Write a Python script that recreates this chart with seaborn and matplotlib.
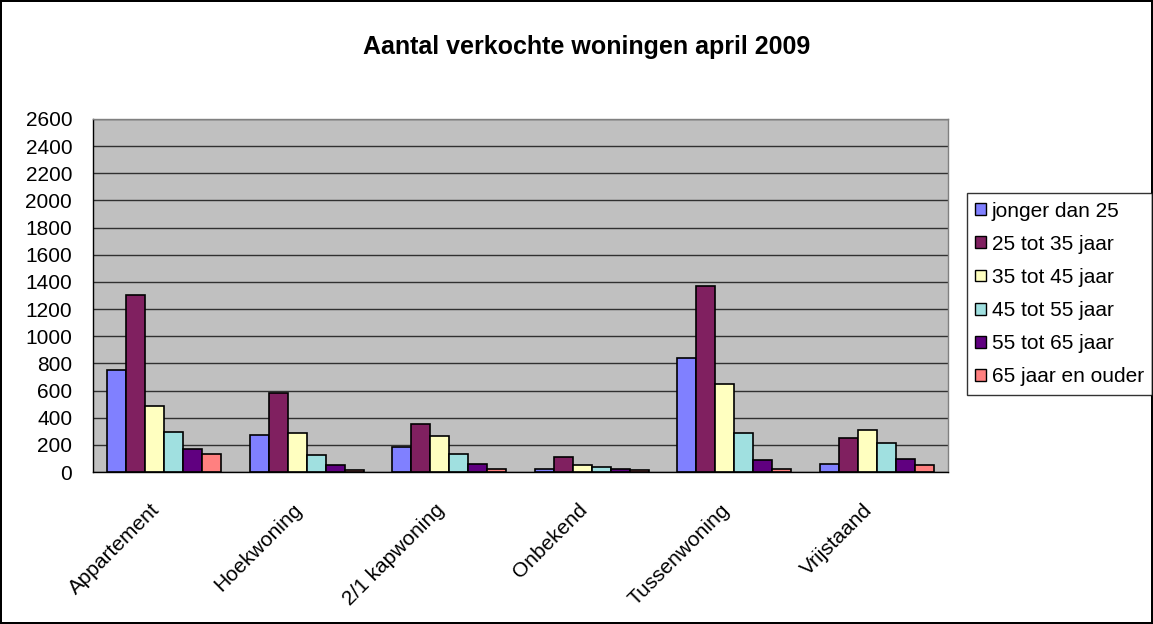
import pandas as pd
import numpy as np
import seaborn as sns
import matplotlib.pyplot as plt
import matplotlib.transforms as mtransforms
from matplotlib.ticker import FixedLocator

# Data
categories = ["Appartement", "Hoekwoning", "2/1 kapwoning", "Onbekend", "Tussenwoning", "Vrijstaand"]
age_groups = ["jonger dan 25", "25 tot 35 jaar", "35 tot 45 jaar",
              "45 tot 55 jaar", "55 tot 65 jaar", "65 jaar en ouder"]

jonger_25 = [750, 275, 186, 22, 840, 61]
j25_35 = [1304, 584, 351, 113, 1370, 248]
j35_45 = [486, 285, 263, 52, 650, 312]
j45_55 = [297, 128, 135, 37, 285, 211]
j55_65 = [172, 52, 61, 22, 86, 96]
j65_plus = [135, 12, 22, 12, 22, 52]

colors = ["#8080FF", "#802060", "#FFFFC0", "#A0E0E0", "#600080", "#FF8080"]

series = [jonger_25, j25_35, j35_45, j45_55, j55_65, j65_plus]
rows = []
for grp, vals in zip(age_groups, series):
    for cat, v in zip(categories, vals):
        rows.append({"Type": cat, "Leeftijd": grp, "Aantal": v})
df = pd.DataFrame(rows)

sns.set_style("white")
plt.rcParams['font.family'] = ['Liberation Sans', 'DejaVu Sans']
plt.rcParams['text.color'] = 'black'
plt.rcParams['xtick.color'] = 'black'
plt.rcParams['ytick.color'] = 'black'

fig = plt.figure(figsize=(11.53, 6.24), dpi=100)
fig.patch.set_edgecolor("black")
fig.patch.set_linewidth(1.5)
ax = fig.add_axes([93 / 1153, 1 - 472 / 624, 855 / 1153, 353 / 624])

sns.barplot(data=df, x="Type", y="Aantal", hue="Leeftijd", order=categories,
            hue_order=age_groups, palette=colors, width=0.8, ax=ax,
            edgecolor="black", linewidth=1.2, saturation=1, legend=False)

ax.set_facecolor("#C0C0C0")
ax.set_ylim(0, 2600)
ax.set_xlim(-0.5, len(categories) - 0.5)
ax.set_yticks(np.arange(0, 2601, 200))
ax.yaxis.grid(True, color="#303030", linewidth=1)
ax.set_axisbelow(True)
ax.set_xlabel("")
ax.set_ylabel("")

# ticks between categories, labels at the centres
ax.xaxis.set_minor_locator(FixedLocator(np.arange(-0.5, len(categories), 1)))
ax.tick_params(axis="x", which="major", length=0, labelsize=15, pad=6, labelcolor="black")
ax.tick_params(axis="x", which="minor", length=6, color="black", width=1, direction="out")
ax.tick_params(axis="y", length=5, color="black", width=1, direction="out", labelsize=15,
               pad=10, labelcolor="black")
ax.set_xticks(range(len(categories)))
ax.set_xticklabels(categories, rotation=45, ha="right", rotation_mode="anchor")

# shift the slanted labels a little down and left, as in the original
offset = mtransforms.ScaledTranslation(-14 / 100, -20 / 100, fig.dpi_scale_trans)
for lbl in ax.get_xticklabels():
    lbl.set_transform(lbl.get_transform() + offset)

for side in ["left", "bottom"]:
    ax.spines[side].set_color("black")
    ax.spines[side].set_linewidth(1)
for side in ["top", "right"]:
    ax.spines[side].set_color("#808080")
    ax.spines[side].set_linewidth(1)

fig.suptitle("Aantal verkochte woningen april 2009", x=587 / 1153, y=1 - 47 / 624,
             va="center", fontsize=18, fontweight="bold", color="black")

handles = [plt.Rectangle((0, 0), 1, 1, facecolor=c, edgecolor="black", linewidth=1)
           for c in colors]
leg = fig.legend(handles, age_groups, loc="center left", bbox_to_anchor=(967 / 1153, 1 - 294 / 624),
                 frameon=True, fancybox=False, edgecolor="black", fontsize=15,
                 handlelength=0.5, handleheight=0.5, handletextpad=0.3, labelspacing=0.68,
                 borderpad=0.4, borderaxespad=0)
for t in leg.get_texts():
    t.set_color("black")

plt.savefig("out.png", dpi=100)
